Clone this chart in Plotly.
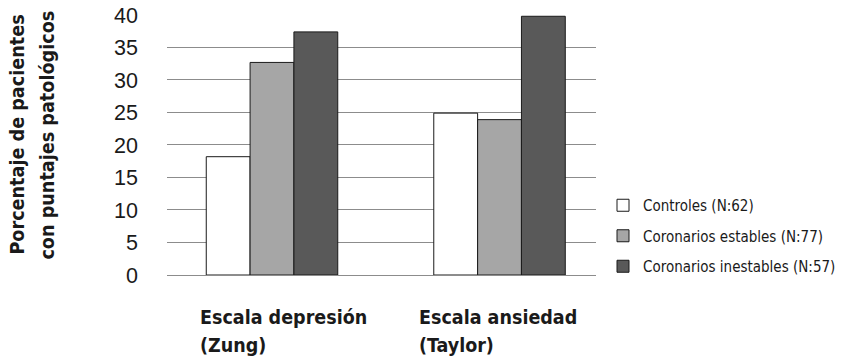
import plotly.graph_objects as go

categories = ["Escala depresión<br>(Zung)", "Escala ansiedad<br>(Taylor)"]
series_names = ["Controles (N:62)", "Coronarios estables (N:77)", "Coronarios inestables (N:57)"]
controles = [18.2, 24.9]
estables = [32.7, 23.9]
inestables = [37.4, 39.8]
tick_vals = [0, 5, 10, 15, 20, 25, 30, 35, 40]
y_title_lines = ["Porcentaje de pacientes", "con puntajes patológicos"]

colors = ["#ffffff", "#a6a6a6", "#595959"]
values = [controles, estables, inestables]
x_idx = [0, 1]
label_shift = [-74, -83]
line_yshift = [-42, -70]
title_x = [-0.3473, -0.2774]

NARROW = "DejaVu Sans Condensed, Liberation Sans Narrow, DejaVu Sans"
W, H = 835, 355

fig = go.Figure()
for i, (name, vals) in enumerate(zip(series_names, values)):
    fig.add_trace(go.Bar(
        x=x_idx, y=vals, name=name, legendgroup=f"g{i}",
        marker=dict(color=colors[i], line=dict(color="#1a1a1a", width=1)),
    ))

for i, cat in enumerate(categories):
    for j, line in enumerate(cat.split("<br>")):
        fig.add_annotation(x=x_idx[i], y=0, xref="x", yref="y", text="<b>" + line + "</b>",
                           showarrow=False, xanchor="left", yanchor="middle",
                           xshift=label_shift[i], yshift=line_yshift[j],
                           font=dict(family=NARROW, size=19.5, color="#1a1a1a"))

for j, line in enumerate(y_title_lines):
    fig.add_annotation(x=title_x[j], y=0.538, xref="paper", yref="paper", text="<b>" + line + "</b>",
                       showarrow=False, textangle=-90, xanchor="center", yanchor="middle",
                       font=dict(family=NARROW, size=19.6, color="#1a1a1a"))

fig.update_layout(
    width=W, height=H,
    margin=dict(l=159, r=247, t=6, b=88, pad=0),
    paper_bgcolor="white", plot_bgcolor="white",
    barmode="group", bargap=0.422, bargroupgap=0,
    showlegend=True,
    legend=dict(xref="container", yref="container", x=595/W, y=1-181/H,
                xanchor="left", yanchor="top", tracegroupgap=8,
                font=dict(family=NARROW, size=15, color="#1a1a1a"),
                bgcolor="rgba(0,0,0,0)"),
    xaxis=dict(range=[-0.4615, 1.424], showticklabels=False, showgrid=False, zeroline=False,
               showline=False, ticks="", automargin=False),
    yaxis=dict(range=[0, 40.15], tickvals=tick_vals, showgrid=True, gridcolor="#8c8c8c", gridwidth=1.3,
               zeroline=True, zerolinecolor="#8c8c8c", zerolinewidth=1.3, showline=False,
               ticks="", ticklabelstandoff=28, automargin=False, ticklabeloverflow="allow",
               tickfont=dict(family="Liberation Sans, Arial", size=21.5, color="#1a1a1a")),
)

fig.write_html("out.html")
